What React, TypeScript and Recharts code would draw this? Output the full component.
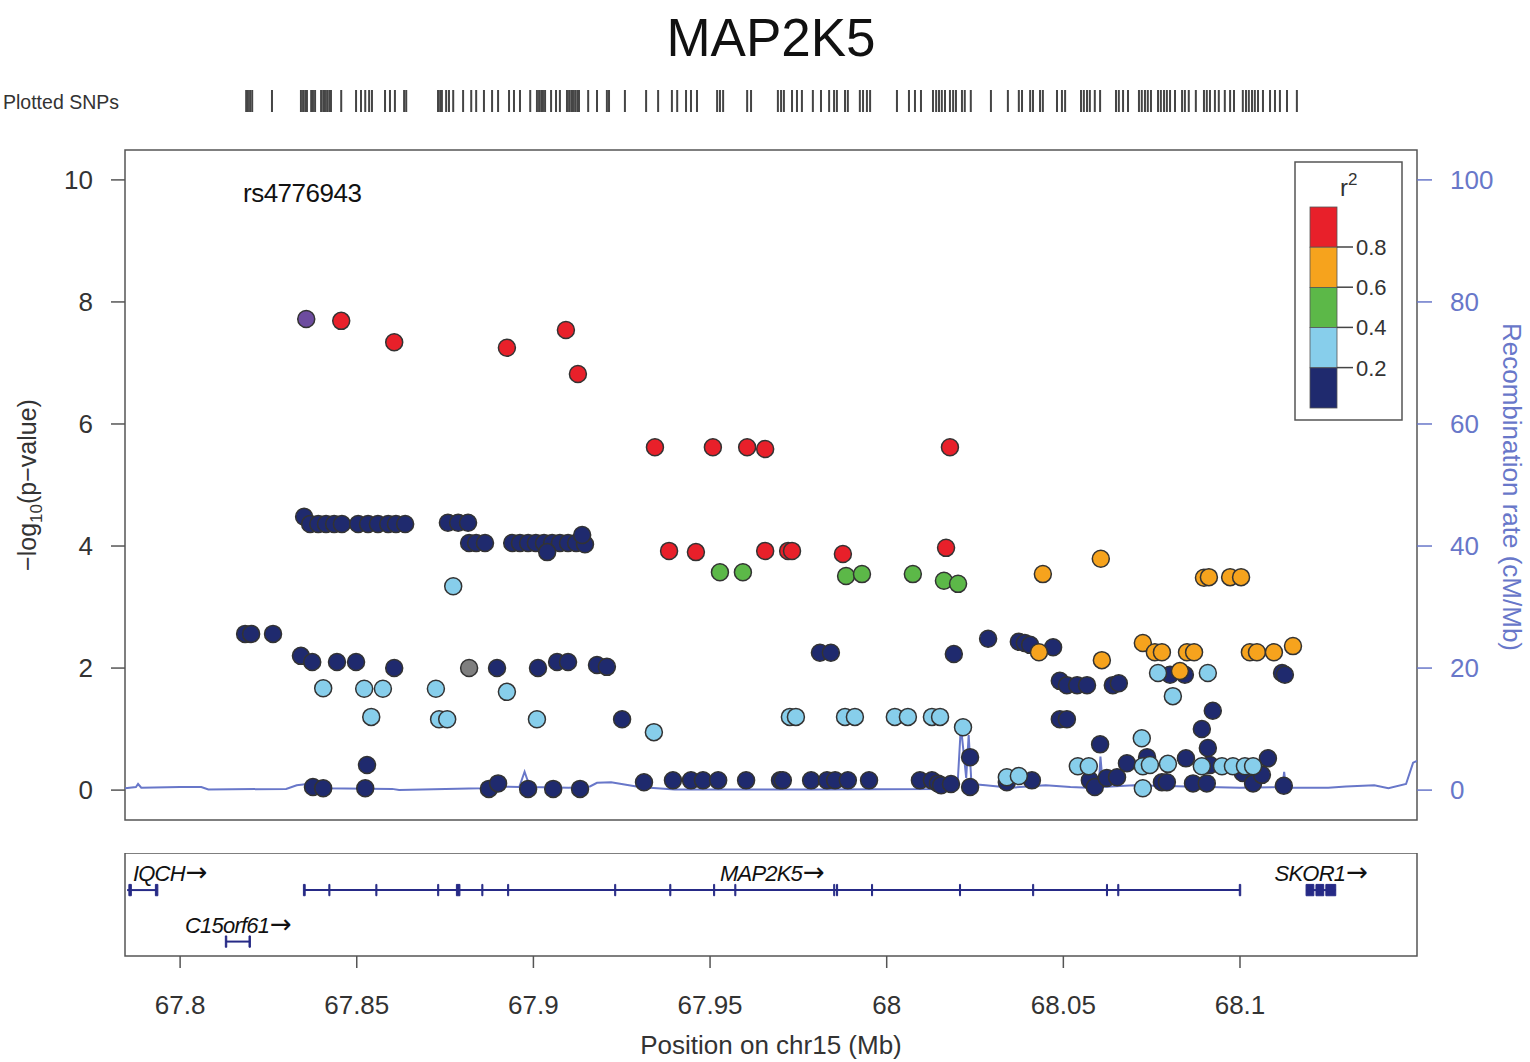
import React from "react";
import {
  ComposedChart,
  Scatter,
  Line,
  XAxis,
  YAxis,
  ReferenceArea,
  ReferenceLine,
} from "recharts";

const FONT = "'Liberation Sans', Arial, sans-serif";

// shared x range (Mb) so all three panels line up
const X_MIN = 67.7844;
const X_MAX = 68.1501;

const xTicks = [67.8, 67.85, 67.9, 67.95, 68, 68.05, 68.1];
const pTicks = [0, 2, 4, 6, 8, 10];
const recombTicks = [0, 20, 40, 60, 80, 100];

// LD colour bins, low -> high r^2
const ldColors = ["#1f2a6e", "#87ceeb", "#5cb848", "#f6a31d", "#e8202a"];
const ldBreaks = ["0.2", "0.4", "0.6", "0.8"];
const LEAD = "#6d4c9f";
const NO_LD = "#7f7f7f";
const RECOMB = "#6877c9";
const GENE = "#262a86";

// [position Mb, -log10 p]
const leadSnp: [number, number][] = [[67.8357, 7.72]];

const redSnps: [number, number][] = [
  [67.8456, 7.69], [67.8606, 7.34], [67.8925, 7.25], [67.9092, 7.54], [67.9126, 6.82],
  [67.9344, 5.62], [67.9508, 5.62], [67.9605, 5.62], [67.9656, 5.59], [68.0179, 5.62],
  [67.9384, 3.92], [67.946, 3.9], [67.9656, 3.92], [67.9721, 3.92], [67.9732, 3.92],
  [67.9876, 3.87], [68.0168, 3.97],
];

const orangeSnps: [number, number][] = [
  [68.0442, 3.54], [68.0606, 3.79], [68.0898, 3.48], [68.0912, 3.49], [68.0972, 3.49],
  [68.1003, 3.49], [68.0725, 2.41], [68.0759, 2.26], [68.0779, 2.26], [68.0431, 2.26],
  [68.0609, 2.13], [68.085, 2.26], [68.087, 2.26], [68.083, 1.95], [68.1028, 2.26],
  [68.1048, 2.26], [68.1096, 2.26], [68.115, 2.36],
];

const greenSnps: [number, number][] = [
  [67.9528, 3.57], [67.9593, 3.57], [67.9885, 3.51], [67.993, 3.54], [68.0074, 3.54],
  [68.0162, 3.43], [68.0202, 3.38],
];

const lightBlueSnps: [number, number][] = [
  [67.8773, 3.34], [67.8405, 1.67], [67.8521, 1.66], [67.8574, 1.66], [67.8724, 1.66],
  [67.8925, 1.61], [67.8541, 1.2], [67.8733, 1.16], [67.8756, 1.16], [67.901, 1.16],
  [67.9341, 0.95], [67.9726, 1.2], [67.9743, 1.2], [67.9882, 1.2], [67.991, 1.2],
  [68.0023, 1.2], [68.006, 1.2], [68.0128, 1.2], [68.0151, 1.2], [68.0216, 1.03],
  [68.034, 0.21], [68.0374, 0.23], [68.0541, 0.39], [68.0572, 0.39], [68.0722, 0.85],
  [68.0725, 0.39], [68.0745, 0.41], [68.0796, 0.43], [68.0768, 1.92], [68.081, 1.54],
  [68.0909, 1.92], [68.0725, 0.03], [68.0892, 0.39], [68.0949, 0.39], [68.098, 0.39],
  [68.1014, 0.39], [68.1037, 0.39],
];

const greySnps: [number, number][] = [[67.8818, 2.0]];

const navySnps: [number, number][] = [
  [67.8184, 2.56], [67.8201, 2.56], [67.8263, 2.56], [67.8342, 2.2], [67.8374, 2.1],
  [67.8444, 2.1], [67.8498, 2.1], [67.8606, 2.0], [67.8897, 2.0], [67.9013, 2.0],
  [67.9067, 2.1], [67.9098, 2.1], [67.918, 2.05], [67.9208, 2.02], [67.9251, 1.16],
  [67.8351, 4.48], [67.8368, 4.36], [67.8391, 4.36], [67.8413, 4.36], [67.8436, 4.36],
  [67.8458, 4.36], [67.8504, 4.36], [67.8532, 4.36], [67.856, 4.36], [67.8589, 4.36],
  [67.8611, 4.36], [67.8637, 4.36], [67.8758, 4.38], [67.8787, 4.38], [67.8815, 4.38],
  [67.8818, 4.05], [67.8838, 4.05], [67.8863, 4.05], [67.894, 4.05], [67.8962, 4.05],
  [67.8985, 4.05], [67.9007, 4.05], [67.903, 4.05], [67.9053, 4.05], [67.9075, 4.05],
  [67.9098, 4.05], [67.9121, 4.05], [67.9146, 4.03], [67.9138, 4.18], [67.9039, 3.9],
  [67.8376, 0.05], [67.8405, 0.03], [67.8529, 0.41], [67.8524, 0.03], [67.8874, 0.02],
  [67.89, 0.11], [67.8985, 0.02], [67.9056, 0.02], [67.9132, 0.02],
  [67.9811, 2.25], [67.9842, 2.25], [68.019, 2.23], [68.0287, 2.48],
  [67.9313, 0.13], [67.9395, 0.16], [67.9446, 0.16], [67.948, 0.16], [67.9523, 0.16],
  [67.9602, 0.16], [67.9698, 0.16], [67.9706, 0.16], [67.9786, 0.16], [67.9831, 0.16],
  [67.9854, 0.16], [67.989, 0.16], [67.995, 0.16], [68.0094, 0.16], [68.0128, 0.16],
  [68.0145, 0.11], [68.0154, 0.08], [68.0182, 0.1], [68.0236, 0.54], [68.0236, 0.05],
  [68.0374, 2.43], [68.0391, 2.41], [68.0406, 2.38], [68.0471, 2.34], [68.049, 1.79],
  [68.051, 1.72], [68.0539, 1.72], [68.0567, 1.72], [68.064, 1.72], [68.0657, 1.75],
  [68.049, 1.16], [68.051, 1.16], [68.0604, 0.75], [68.0802, 1.89], [68.0844, 1.89],
  [68.0923, 1.3], [68.0892, 1.0], [68.0909, 0.69], [68.1119, 1.92], [68.1127, 1.89],
  [68.034, 0.13], [68.0411, 0.16], [68.0575, 0.16], [68.0589, 0.05], [68.0623, 0.2],
  [68.0652, 0.21], [68.068, 0.44], [68.0737, 0.54], [68.0779, 0.13], [68.0793, 0.13],
  [68.0847, 0.52], [68.0867, 0.11], [68.0906, 0.11], [68.0915, 0.41], [68.1008, 0.28],
  [68.1037, 0.11], [68.1062, 0.25], [68.1079, 0.52], [68.1124, 0.07],
];

// recombination rate, cM/Mb
const recombination = [
  { pos: 67.7844, rate: 0.3 }, { pos: 67.7875, rate: 0.5 }, { pos: 67.7881, rate: 1.0 },
  { pos: 67.789, rate: 0.4 }, { pos: 67.8, rate: 0.5 }, { pos: 67.806, rate: 0.5 },
  { pos: 67.808, rate: 0.1 }, { pos: 67.83, rate: 0.2 }, { pos: 67.833, rate: 0.8 },
  { pos: 67.836, rate: 1.0 }, { pos: 67.84, rate: 0.3 }, { pos: 67.86, rate: 0.2 },
  { pos: 67.862, rate: 0.0 }, { pos: 67.885, rate: 0.3 }, { pos: 67.889, rate: 0.6 },
  { pos: 67.896, rate: 0.5 }, { pos: 67.8975, rate: 3.0 }, { pos: 67.899, rate: 0.5 },
  { pos: 67.91, rate: 0.4 }, { pos: 67.916, rate: 0.6 }, { pos: 67.918, rate: 1.2 },
  { pos: 67.922, rate: 1.3 }, { pos: 67.93, rate: 0.5 }, { pos: 67.94, rate: 0.1 },
  { pos: 67.98, rate: 0.1 }, { pos: 68.015, rate: 0.2 }, { pos: 68.02, rate: 0.3 },
  { pos: 68.021, rate: 10.5 }, { pos: 68.0225, rate: 2.0 }, { pos: 68.0232, rate: 9.0 },
  { pos: 68.024, rate: 1.0 }, { pos: 68.028, rate: 0.8 }, { pos: 68.035, rate: 0.4 },
  { pos: 68.045, rate: 0.8 }, { pos: 68.052, rate: 0.5 }, { pos: 68.06, rate: 0.3 },
  { pos: 68.0605, rate: 5.5 }, { pos: 68.0612, rate: 0.5 }, { pos: 68.07, rate: 0.8 },
  { pos: 68.1, rate: 0.4 }, { pos: 68.112, rate: 0.5 }, { pos: 68.1125, rate: 3.0 },
  { pos: 68.113, rate: 0.4 }, { pos: 68.125, rate: 0.4 }, { pos: 68.13, rate: 0.6 },
  { pos: 68.138, rate: 0.8 }, { pos: 68.142, rate: 0.3 }, { pos: 68.147, rate: 1.0 },
  { pos: 68.149, rate: 4.5 }, { pos: 68.1501, rate: 4.8 },
];

// every SNP position tested (the rug above the plot)
const snpRug = [
  67.8187, 67.8192, 67.8198, 67.8204, 67.826,
  67.8342, 67.8348, 67.8354, 67.8359, 67.8371, 67.8376, 67.8382,
  67.8399, 67.8405, 67.841, 67.8416, 67.8422, 67.8427, 67.8456,
  67.8498, 67.8512, 67.8524, 67.8535, 67.8543,
  67.858, 67.8594, 67.8608, 67.8634, 67.864,
  67.873, 67.8736, 67.8741, 67.8753, 67.8761, 67.8773,
  67.8801, 67.8824, 67.8838, 67.886, 67.8883, 67.89,
  67.8931, 67.8945, 67.8962, 67.8991,
  67.901, 67.9016, 67.9022, 67.9027, 67.9033, 67.905, 67.9064, 67.9075,
  67.9095, 67.9101, 67.9107, 67.9112, 67.9118, 67.9124, 67.9129, 67.9155,
  67.918, 67.9208, 67.9214, 67.9259, 67.9319, 67.9353, 67.9392, 67.9407,
  67.9432, 67.9446, 67.9463, 67.952, 67.9528, 67.9537, 67.9605, 67.9616,
  67.9692, 67.9701, 67.9709, 67.9732, 67.9746, 67.976, 67.9791, 67.9814,
  67.9837, 67.9851, 67.9859, 67.9882, 67.989, 67.9924, 67.9933, 67.9944, 67.9953,
  68.0029, 68.0063, 68.008, 68.0097, 68.0131, 68.014, 68.0148, 68.0156, 68.0165,
  68.0179, 68.0188, 68.0196, 68.0213, 68.0221, 68.0238, 68.0295, 68.0343,
  68.0374, 68.0383, 68.0406, 68.0414, 68.0434, 68.0442, 68.0482, 68.0496, 68.0505,
  68.055, 68.0558, 68.0567, 68.0575, 68.0589, 68.0604, 68.0649, 68.0657, 68.0669, 68.0683,
  68.0714, 68.0722, 68.0731, 68.0739, 68.0748, 68.0768, 68.0776, 68.0785, 68.0793, 68.0802,
  68.0816, 68.0836, 68.0844, 68.0855, 68.0875, 68.0898, 68.0906, 68.0915, 68.0929, 68.094,
  68.0957, 68.0972, 68.0983, 68.1008, 68.1017, 68.1025, 68.1034, 68.1042, 68.1051, 68.1065,
  68.1085, 68.1099, 68.1113, 68.1133, 68.1161,
];

// genes: name, start, end (Mb), track row
const genes = [
  { name: "IQCH", start: 67.785, end: 67.7935, row: 0 },
  { name: "C15orf61", start: 67.813, end: 67.8198, row: 1 },
  { name: "MAP2K5", start: 67.8351, end: 68.1, row: 0 },
  { name: "SKOR1", start: 68.1187, end: 68.1271, row: 0 },
];

// exons as [start, end] Mb, keyed by gene name
const exons: Record<string, [number, number][]> = {
  IQCH: [[67.7855, 67.7862], [67.793, 67.7937]],
  C15orf61: [[67.8128, 67.8132], [67.8195, 67.8199]],
  MAP2K5: [
    [67.8349, 67.8354], [67.8421, 67.8424], [67.8554, 67.8557], [67.8729, 67.8732],
    [67.8782, 67.8792], [67.8854, 67.8857], [67.8927, 67.893], [67.923, 67.9233],
    [67.9386, 67.9389], [67.951, 67.9513], [67.957, 67.9573], [67.985, 67.9853],
    [67.9858, 67.9861], [67.9957, 67.996], [68.0206, 68.0209], [68.0413, 68.0416],
    [68.0622, 68.0625], [68.0654, 68.0657], [68.0998, 68.1002],
  ],
  SKOR1: [[68.1187, 68.1209], [68.1215, 68.1237], [68.1243, 68.1271]],
};

const toPoints = (arr: [number, number][]) => arr.map(([pos, logp]) => ({ pos, logp }));
const rowY = (row: number) => (row === 0 ? 0.64 : 0.14);

const makeDot = (fill: string) => (props: any) => (
  <circle cx={props.cx} cy={props.cy} r={8.5} fill={fill} stroke="#333" strokeWidth={1.5} />
);

function RugTick(props: any) {
  return <rect x={props.cx - 1} y={props.cy - 11} width={2} height={22} fill="#454545" />;
}

function GeneLabel(props: any) {
  const { cx, cy, payload } = props;
  const approxHalf = payload.name.length * 6 + 14;
  const clamp = cx - approxHalf < 130;
  return (
    <text
      x={clamp ? 133 : cx}
      y={cy - 9}
      textAnchor={clamp ? "start" : "middle"}
      fontSize={22}
      fontStyle="italic"
      fontFamily={FONT}
      fill="#111"
      letterSpacing={-0.8}
    >
      {payload.name}
      <tspan fontSize={26} fontStyle="normal" fontFamily="'DejaVu Sans', sans-serif" dx={1}>
        {"\u2192"}
      </tspan>
    </text>
  );
}

function PValueTitle() {
  return (
    <text transform="translate(36 485) rotate(-90)" textAnchor="middle" fontSize={25} fill="#333" fontFamily={FONT}>
      {"\u2212log"}
      <tspan fontSize={17} dy={6}>10</tspan>
      <tspan dy={-6}>{"(p\u2212value)"}</tspan>
    </text>
  );
}

function RecombTitle() {
  return (
    <text transform="translate(1503 487) rotate(90)" textAnchor="middle" fontSize={26} fill={RECOMB} fontFamily={FONT}>
      Recombination rate (cM/Mb)
    </text>
  );
}

function PositionTitle() {
  return (
    <text x={771} y={201} textAnchor="middle" fontSize={26} fill="#333" fontFamily={FONT}>
      Position on chr15 (Mb)
    </text>
  );
}

export default function App() {
  const rugData = snpRug.map((pos) => ({ pos, y: 0.5 }));
  const geneLabels = genes.map((g) => ({ name: g.name, pos: (g.start + g.end) / 2, y: rowY(g.row) }));
  const ldSeries = [
    { key: "navy", data: toPoints(navySnps), color: ldColors[0] },
    { key: "grey", data: toPoints(greySnps), color: NO_LD },
    { key: "lightblue", data: toPoints(lightBlueSnps), color: ldColors[1] },
    { key: "green", data: toPoints(greenSnps), color: ldColors[2] },
    { key: "orange", data: toPoints(orangeSnps), color: ldColors[3] },
    { key: "red", data: toPoints(redSnps), color: ldColors[4] },
    { key: "lead", data: toPoints(leadSnp), color: LEAD },
  ];
  const legendColors = [...ldColors].reverse();

  return (
    <div style={{ position: "absolute", left: 0, top: 0, width: 1530, height: 1062, background: "#fff", fontFamily: FONT }}>
      {/* ── plotted SNPs rug ─────────────────────── */}
      <div style={{ position: "absolute", left: 0, top: 85 }}>
        <ComposedChart width={1530} height={32} margin={{ top: 0, right: 113, bottom: 0, left: 125 }}>
          <XAxis type="number" dataKey="pos" domain={[X_MIN, X_MAX]} hide allowDataOverflow />
          <YAxis type="number" dataKey="y" domain={[0, 1]} hide />
          <Scatter data={rugData} dataKey="y" shape={RugTick} isAnimationActive={false} />
        </ComposedChart>
      </div>

      {/* ── association panel ────────────────────── */}
      <div style={{ position: "absolute", left: 0, top: 0 }}>
        <ComposedChart width={1530} height={835} margin={{ top: 150, right: 13, bottom: 15, left: 65 }}>
          <XAxis type="number" dataKey="pos" domain={[X_MIN, X_MAX]} hide allowDataOverflow />
          <YAxis
            yAxisId="p"
            type="number"
            dataKey="logp"
            domain={[-0.49, 10.49]}
            ticks={pTicks}
            allowDataOverflow
            width={60}
            axisLine={false}
            tickSize={14}
            tickMargin={18}
            tickLine={{ stroke: "#555", strokeWidth: 1.5 }}
            tick={{ fill: "#333", fontSize: 26, fontFamily: FONT }}
            label={<PValueTitle />}
          />
          <YAxis
            yAxisId="r"
            orientation="right"
            type="number"
            dataKey="rate"
            domain={[-4.9, 104.9]}
            ticks={recombTicks}
            allowDataOverflow
            width={100}
            axisLine={false}
            tickSize={15}
            tickMargin={18}
            tickLine={{ stroke: RECOMB, strokeWidth: 1.5 }}
            tick={{ fill: RECOMB, fontSize: 26, fontFamily: FONT }}
            label={<RecombTitle />}
          />
          <ReferenceArea
            yAxisId="p"
            x1={X_MIN}
            x2={X_MAX}
            y1={-0.49}
            y2={10.49}
            fill="none"
            stroke="#555"
            strokeWidth={1.5}
            ifOverflow="visible"
          />
          <Line
            yAxisId="r"
            data={recombination}
            dataKey="rate"
            type="linear"
            stroke={RECOMB}
            strokeWidth={2}
            dot={false}
            activeDot={false}
            isAnimationActive={false}
          />
          {ldSeries.map((s) => (
            <Scatter
              key={s.key}
              yAxisId="p"
              data={s.data}
              dataKey="logp"
              shape={makeDot(s.color)}
              isAnimationActive={false}
            />
          ))}
        </ComposedChart>
      </div>

      {/* ── gene track ───────────────────────────── */}
      <div style={{ position: "absolute", left: 0, top: 853 }}>
        <ComposedChart width={1530} height={209} margin={{ top: 0, right: 113, bottom: 26, left: 125 }}>
          <XAxis
            type="number"
            dataKey="pos"
            domain={[X_MIN, X_MAX]}
            ticks={xTicks}
            allowDataOverflow
            height={80}
            axisLine={false}
            tickSize={12}
            tickMargin={28}
            tickLine={{ stroke: "#555", strokeWidth: 1.5 }}
            tick={{ fill: "#333", fontSize: 26, fontFamily: FONT }}
            tickFormatter={(v) => String(v)}
            label={<PositionTitle />}
          />
          <YAxis type="number" dataKey="y" domain={[0, 1]} hide />
          <ReferenceArea
            x1={X_MIN}
            x2={X_MAX}
            y1={0}
            y2={1}
            fill="none"
            stroke="#555"
            strokeWidth={1.5}
            ifOverflow="visible"
          />
          {genes.map((g) => (
            <ReferenceLine
              key={`line-${g.name}`}
              segment={[
                { x: g.start, y: rowY(g.row) },
                { x: g.end, y: rowY(g.row) },
              ]}
              stroke={GENE}
              strokeWidth={2}
              ifOverflow="visible"
            />
          ))}
          {genes.map((g) =>
            (exons[g.name] || []).map(([s, e], i) => (
              <ReferenceArea
                key={`ex-${g.name}-${i}`}
                x1={s}
                x2={e}
                y1={rowY(g.row) - 0.055}
                y2={rowY(g.row) + 0.055}
                fill={GENE}
                fillOpacity={1}
                stroke={GENE}
                strokeWidth={1}
                ifOverflow="visible"
              />
            ))
          )}
          <Scatter data={geneLabels} dataKey="y" shape={GeneLabel} isAnimationActive={false} />
        </ComposedChart>
      </div>

      {/* ── titles, lead SNP label, r2 legend ────── */}
      <svg width={1530} height={1062} style={{ position: "absolute", left: 0, top: 0, pointerEvents: "none" }}>
        <text x={771} y={56} textAnchor="middle" fontSize={53} fill="#111" fontFamily={FONT}>
          MAP2K5
        </text>
        <text x={119} y={109} textAnchor="end" fontSize={19.5} fill="#333" fontFamily={FONT}>
          Plotted SNPs
        </text>
        <text x={243} y={202} fontSize={26} fill="#111" fontFamily={FONT} letterSpacing={-0.5}>
          rs4776943
        </text>

        <rect x={1295} y={162} width={107} height={258} fill="#fff" stroke="#555" strokeWidth={1.5} />
        <text x={1340} y={196} fontSize={24} fill="#333" fontFamily={FONT}>
          r<tspan fontSize={17} dy={-11}>2</tspan>
        </text>
        {legendColors.map((c, i) => (
          <rect key={c} x={1310} y={207 + i * 40.2} width={27} height={40.2} fill={c} stroke="#555" strokeWidth={0.8} />
        ))}
        {ldBreaks
          .slice()
          .reverse()
          .map((b, i) => (
            <g key={b}>
              <line x1={1337} x2={1353} y1={247 + i * 40.2} y2={247 + i * 40.2} stroke="#444" strokeWidth={1.5} />
              <text x={1356} y={255 + i * 40.2} fontSize={22} fill="#333" fontFamily={FONT}>
                {b}
              </text>
            </g>
          ))}
      </svg>
    </div>
  );
}
